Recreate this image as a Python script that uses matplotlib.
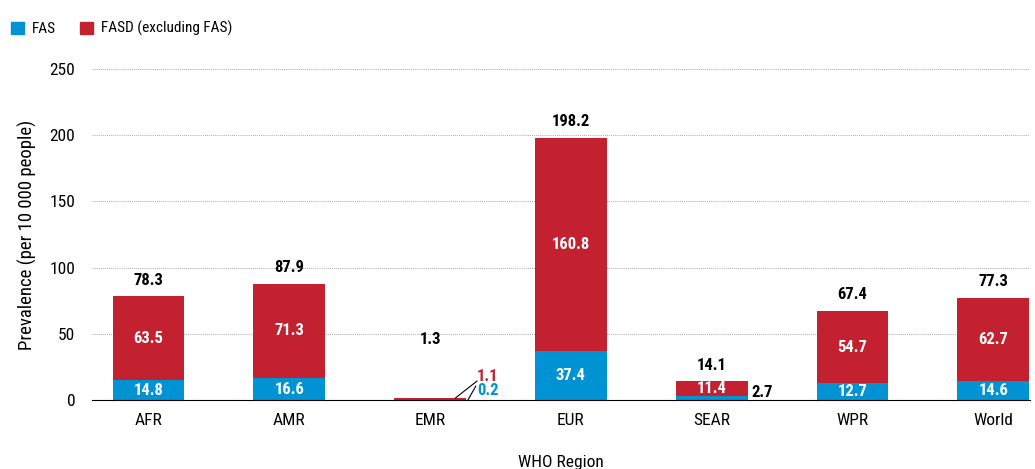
import matplotlib
matplotlib.use("Agg")
from matplotlib import pyplot as plt
from matplotlib.patches import Patch
from matplotlib import font_manager

regions = ["AFR", "AMR", "EMR", "EUR", "SEAR", "WPR", "World"]
fas = [14.8, 16.6, 0.2, 37.4, 2.7, 12.7, 14.6]
fasd = [63.5, 71.3, 1.1, 160.8, 11.4, 54.7, 62.7]
totals = [78.3, 87.9, 1.3, 198.2, 14.1, 67.4, 77.3]

blue = "#0093d3"
red = "#c32030"

names = {f.name for f in font_manager.fontManager.ttflist}
fam = [n for n in ["Roboto Condensed", "Liberation Sans Narrow", "Arial Narrow", "Liberation Sans"] if n in names]
plt.rcParams["font.family"] = fam[:1] + ["DejaVu Sans"]

fig = plt.figure(figsize=(10.35, 4.69), dpi=100)
ax = fig.add_axes([0.089, 0.147, 0.906, 0.706])

x = list(range(len(regions)))
w = 0.51
ax.bar(x, fas, w, color=blue, zorder=3)
ax.bar(x, fasd, w, bottom=fas, color=red, zorder=3)

ax.set_xlim(-0.40, 6.26)
ax.set_ylim(0, 250)
ax.set_yticks([0, 50, 100, 150, 200, 250])
ax.set_xticks(x)
ax.set_xticklabels(regions)
ax.tick_params(length=0, labelsize=12.5)
ax.tick_params(axis="x", pad=9)
ax.tick_params(axis="y", pad=12)
ax.yaxis.grid(True, linestyle=(0, (1, 1.5)), color="#888888", linewidth=0.6)
for s in ["top", "right", "left"]:
    ax.spines[s].set_visible(False)
ax.spines["bottom"].set_color("black")
ax.spines["bottom"].set_zorder(4)

ax.set_ylabel("Prevalence (per 10 000 people)", fontsize=13.5, labelpad=9)
ax.set_xlabel("WHO Region", fontsize=12.5, labelpad=20)

for i in x:
    if regions[i] == "EMR":
        ax.text(i, 46, f"{totals[i]}", ha="center", va="center", fontsize=12, fontweight="bold")
        ax.plot([2.18, 2.333], [1.5, 14.3], color="black", lw=0.8, zorder=4)
        ax.plot([2.27, 2.325], [0.2, 10.5], color="black", lw=0.8, zorder=4)
        ax.text(2.335, 18, f"{fasd[i]}", ha="left", va="center", fontsize=12, fontweight="bold", color=red)
        ax.text(2.335, 7, f"{fas[i]}", ha="left", va="center", fontsize=12, fontweight="bold", color=blue)
        continue
    ax.annotate(f"{totals[i]}", (i, totals[i]), xytext=(0, 6), textcoords="offset points",
                ha="center", va="bottom", fontsize=12, fontweight="bold")
    ax.text(i, fas[i] + fasd[i] / 2, f"{fasd[i]}", ha="center", va="center",
            fontsize=12, fontweight="bold", color="white", zorder=5)
    if regions[i] == "SEAR":
        ax.text(i + w / 2 + 0.03, 6, f"{fas[i]}", ha="left", va="center",
                fontsize=12, fontweight="bold", color="black")
    else:
        ax.text(i, fas[i] / 2, f"{fas[i]}", ha="center", va="center",
                fontsize=12, fontweight="bold", color="white", zorder=5)

handles = [Patch(color=blue, label="FAS"), Patch(color=red, label="FASD (excluding FAS)")]
fig.legend(handles=handles, loc="upper left", bbox_to_anchor=(0.0106, 0.955), ncol=2, frameon=False,
           borderpad=0, borderaxespad=0, fontsize=11, handlelength=0.85, handleheight=0.85,
           handletextpad=0.5, columnspacing=1.6)

fig.savefig("out.png", dpi=100)
